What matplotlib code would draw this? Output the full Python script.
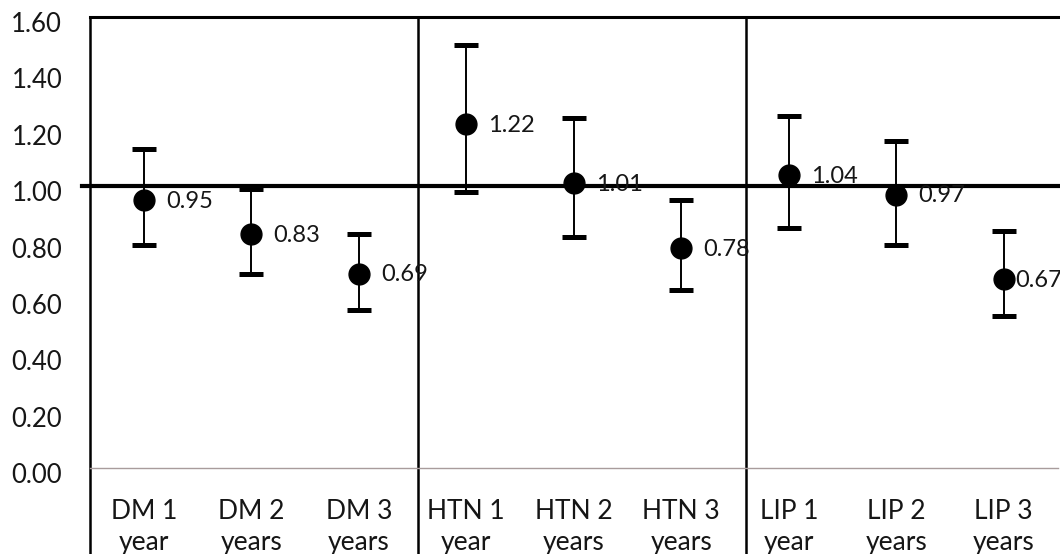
#!/usr/bin/env python3
"""Odds ratios with confidence intervals by condition and follow-up year."""

import matplotlib
matplotlib.use("Agg")
import matplotlib.pyplot as plt
from matplotlib.transforms import ScaledTranslation

plt.rcParams.update({"font.family": ["Lato", "DejaVu Sans"]})

CATEGORIES = [
    "DM 1\nyear", "DM 2\nyears", "DM 3\nyears",
    "HTN 1\nyear", "HTN 2\nyears", "HTN 3\nyears",
    "LIP 1\nyear", "LIP 2\nyears", "LIP 3\nyears",
]
ESTIMATE = [0.95, 0.83, 0.69, 1.22, 1.01, 0.78, 1.04, 0.97, 0.67]
LOWER = [0.79, 0.69, 0.56, 0.98, 0.82, 0.63, 0.85, 0.79, 0.54]
UPPER = [1.13, 0.99, 0.83, 1.50, 1.24, 0.95, 1.25, 1.16, 0.84]
Y_TICKS = [0.0, 0.2, 0.4, 0.6, 0.8, 1.0, 1.2, 1.4, 1.6]

W, H = 1060, 554
SEPARATORS = [2.55, 5.6]
INK = "#161616"


def main() -> None:
    fig = plt.figure(figsize=(W / 100, H / 100), dpi=100)
    ax = fig.add_axes([90 / W, (H - 468) / H, 967.5 / W, 451 / H])

    x = list(range(len(CATEGORIES)))
    yerr = [
        [e - lo for e, lo in zip(ESTIMATE, LOWER)],
        [hi - e for e, hi in zip(ESTIMATE, UPPER)],
    ]
    ax.errorbar(
        x, ESTIMATE, yerr=yerr, fmt="o", color="black", ms=15,
        elinewidth=1.4, capsize=8.5, capthick=3.6, zorder=5,
    )
    for i, (xi, v) in enumerate(zip(x, ESTIMATE)):
        dx = 8 if i == len(x) - 1 else 16  # last label squeezed against the edge
        ax.annotate(
            f"{v:.2f}", (xi, v), xytext=(dx, -1), textcoords="offset points",
            ha="left", va="center", fontsize=17, color=INK, zorder=6,
        )

    # reference line at 1 and group separators
    ax.axhline(1.0, xmin=-0.008, xmax=1.01, color="black", lw=3, clip_on=False, zorder=4)
    for sx in SEPARATORS:
        ax.axvline(sx, ymin=-0.2, ymax=1, color="black", lw=1.8, clip_on=False)
    ax.axvline(-0.5, ymin=-0.2, ymax=1, color="black", lw=1.8, clip_on=False)

    ax.set_xlim(-0.5, 8.5)
    ax.set_ylim(0, 1.6)
    ax.set_yticks(Y_TICKS)
    ax.set_yticklabels([f"{t:.2f}" for t in Y_TICKS], fontsize=18.5, color=INK)
    ax.set_xticks(x)
    ax.set_xticklabels(CATEGORIES, fontsize=19, color=INK, linespacing=1.3)
    ax.tick_params(axis="y", length=0, pad=20)
    ax.tick_params(axis="x", length=0, pad=22)
    shift = ScaledTranslation(0, -5 / 100, fig.dpi_scale_trans)
    for lab in ax.get_yticklabels():
        lab.set_transform(lab.get_transform() + shift)

    ax.spines["right"].set_visible(False)
    ax.spines["left"].set_visible(False)
    ax.spines["top"].set_linewidth(2.2)
    ax.spines["bottom"].set_color("#a89c9c")
    ax.spines["bottom"].set_linewidth(1.0)

    fig.savefig("out.png", dpi=100)


if __name__ == "__main__":
    main()
